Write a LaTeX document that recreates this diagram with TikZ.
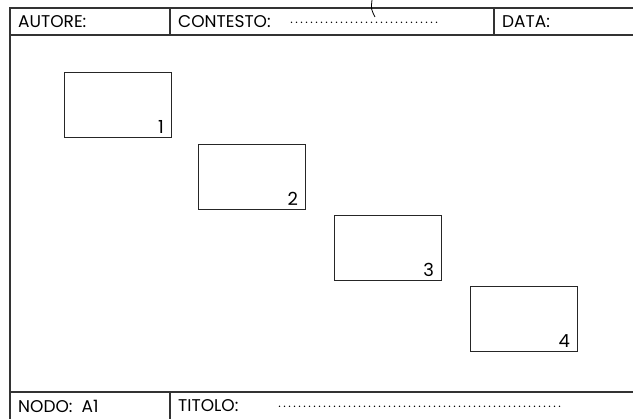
\documentclass[tikz,border=0pt]{standalone}
\usepackage{fontspec}
\setmainfont{Poppins}
\newcommand\mydotrow[1]{\hbox to #1{\leaders\hbox to 5pt{\hss.\hss}\hfill}}
\begin{document}
\begin{tikzpicture}[x=1pt,y=-1pt,
  frame/.style={draw=black!80,line width=1.3pt},
  box/.style={draw=black!85,line width=1.1pt,minimum width=107pt,minimum height=65pt,inner sep=0pt,anchor=north west},
  lbl/.style={font=\fontsize{17}{19}\selectfont,anchor=west,inner sep=0pt},
  num/.style={font=\fontsize{18}{20}\selectfont,anchor=south east,inner sep=0pt},
  dots/.style={font=\fontsize{12}{14}\selectfont,anchor=west,inner sep=0pt}]
\useasboundingbox (0,0) rectangle (633,419);
% frame
\draw[frame] (633,8) -- (10,8) -- (10,419);
\draw[frame] (10,35) -- (633,35);
\draw[frame] (10,392) -- (633,392);
\draw[frame] (170,8) -- (170,35);
\draw[frame] (494,8) -- (494,35);
\draw[frame] (170,392) -- (170,419);
\draw[line width=0.8pt] (372,0) .. controls (371,9) .. (375,17);
% header texts
\node[lbl] (autore) at (18,22) {AUTORE:};
\node[lbl] (contesto) at (178,22) {CONTESTO:};
\node[dots] (cdots) at (289,23) {\mydotrow{152pt}};
\node[lbl] (data) at (502,22) {DATA:};
% footer texts
\node[lbl] (nodo) at (18,406) {NODO:\ \ A1};
\node[lbl] (titolo) at (178,406) {TITOLO:};
\node[dots] (tdots) at (277,407) {\mydotrow{288pt}};
% boxes
\node[box] (b1) at (64,72) {};
\node[box] (b2) at (198,144) {};
\node[box] (b3) at (334,215) {};
\node[box] (b4) at (470,286) {};
\node[num] (n1) at ([xshift=-8pt,yshift=4pt]b1.south east) {1};
\node[num] (n2) at ([xshift=-8pt,yshift=4pt]b2.south east) {2};
\node[num] (n3) at ([xshift=-8pt,yshift=4pt]b3.south east) {3};
\node[num] (n4) at ([xshift=-8pt,yshift=4pt]b4.south east) {4};
\end{tikzpicture}
\end{document}
